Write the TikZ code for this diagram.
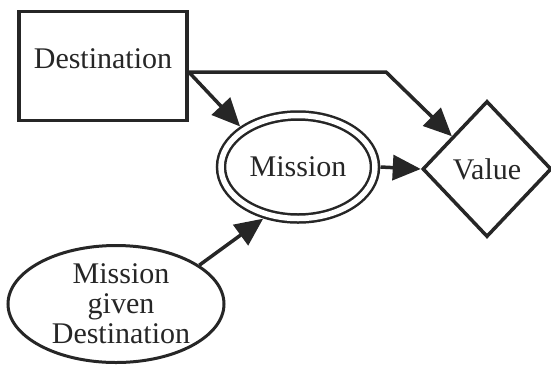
\documentclass[tikz,border=0pt]{standalone}
\usepackage{fontspec}
\setmainfont{Liberation Serif}
\usetikzlibrary{shapes.geometric,arrows.meta}
\begin{document}
\begin{tikzpicture}[x=1bp,y=-1bp,
  every node/.style={font=\fontsize{30bp}{30bp}\selectfont, text=black!85},
  conn/.style={draw=black!85, line width=3.5bp, -{Triangle[length=28bp,width=25bp]}},
  boxnode/.style={draw=black!85, line width=3.5bp, rectangle, minimum width=168bp, minimum height=109bp, inner sep=0pt, text height=20bp, text depth=15bp},
  chance/.style={draw=black!85, ellipse, line width=3bp, minimum width=216bp, minimum height=117bp, inner sep=0pt, align=center},
  dblchance/.style={draw=black!85, ellipse, double, line width=2.5bp, double distance=5.5bp, minimum width=154bp, minimum height=103bp, inner sep=0pt, outer sep=5.5bp},
  valnode/.style={draw=black!85, diamond, line width=3.5bp, minimum width=129bp, minimum height=136bp, inner sep=0pt}]
\useasboundingbox (0,0) rectangle (551,366);
\node[boxnode] (dest) at (103,66) {Destination};
\node[dblchance] (mis) at (298,167) {Mission};
\node[valnode] (val) at (487,169) {Value};
\node[chance] (mgd) at (116,304) {\hspace*{10bp}Mission\\\hspace*{10bp}given\\\hspace*{10bp}Destination};
\coordinate (bend) at (386,72);
\draw[conn] (dest.-4) -- (mis.145);
\draw[conn] (dest.-4) -- (bend) -- (val.137);
\draw[conn] (mis.east) -- (val.west);
\draw[conn] (mgd.25) -- (mis.236);
\end{tikzpicture}
\end{document}
